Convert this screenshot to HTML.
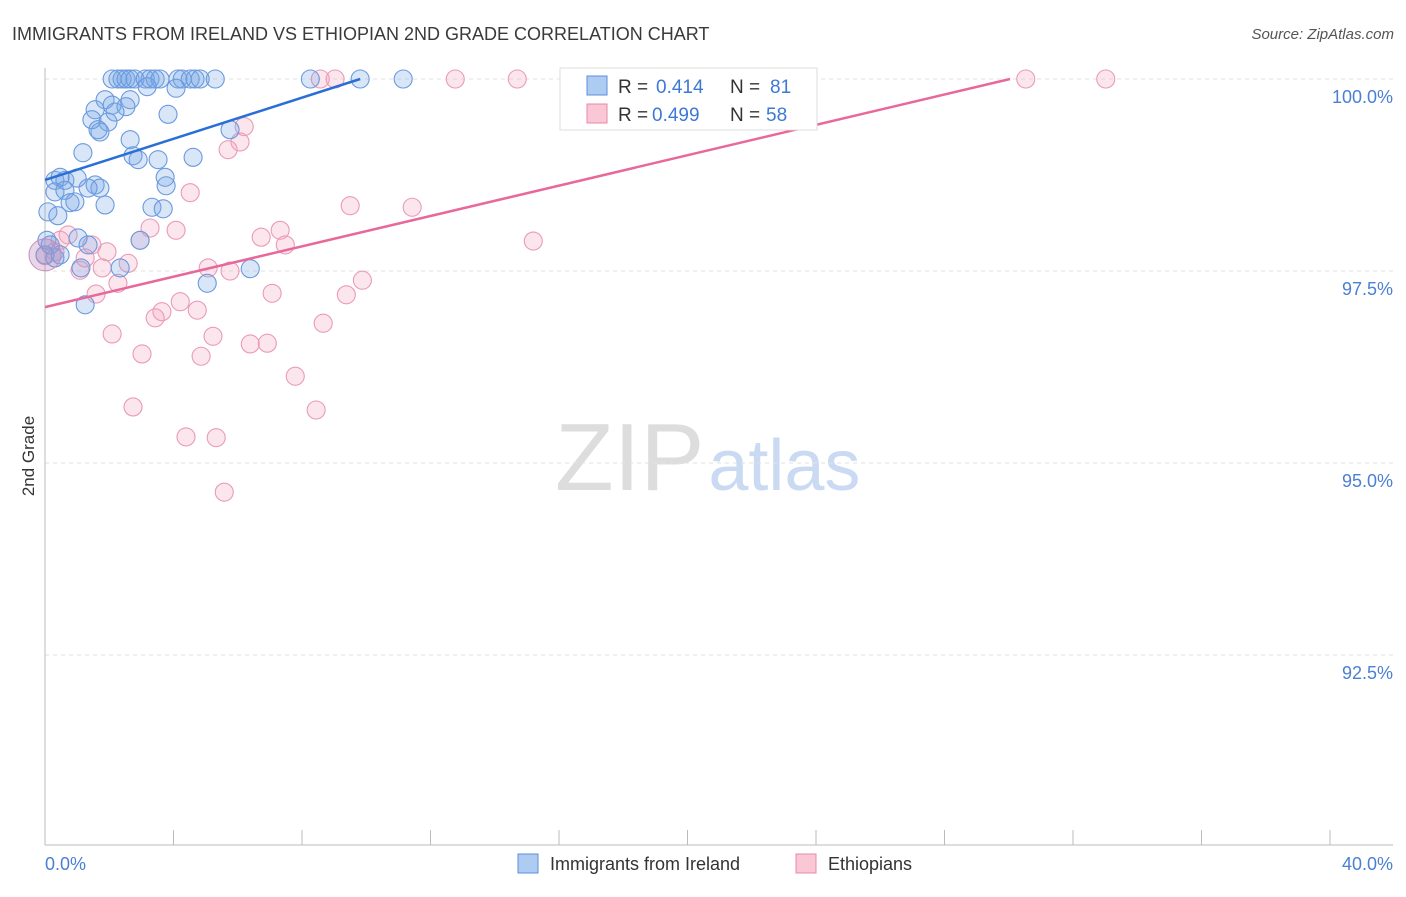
<!DOCTYPE html>
<html><head><meta charset="utf-8"><style>
body{margin:0;background:#fff;font-family:"Liberation Sans",sans-serif;}
svg text{font-family:"Liberation Sans",sans-serif;}
</style></head><body>
<svg id="chart" width="1406" height="892" viewBox="0 0 1406 892" xmlns="http://www.w3.org/2000/svg">
<text x="12" y="40" font-size="18" fill="#3a3a3a">IMMIGRANTS FROM IRELAND VS ETHIOPIAN 2ND GRADE CORRELATION CHART</text>
<text x="1394" y="39" font-size="15" fill="#555" text-anchor="end" font-style="italic">Source: ZipAtlas.com</text>
<text x="555" y="490" font-size="96" fill="#ddd" font-family="Liberation Serif">ZIP<tspan fill="#c9daf2" font-family="Liberation Sans" font-size="72" dx="4">atlas</tspan></text>
<g id="grid"></g>
<g id="axes"></g>
<g id="marks"></g>
<text transform="translate(34,456) rotate(-90)" font-size="17" fill="#333" text-anchor="middle">2nd Grade</text>
<text x="45" y="870" font-size="18" fill="#4a7fd4">0.0%</text>
<text x="1393" y="870" font-size="18" fill="#4a7fd4" text-anchor="end">40.0%</text>
<g>
<rect x="560" y="68" width="257" height="62" fill="#fff" stroke="#ddd"/>
<rect x="587" y="76" width="20" height="19" fill="#aecbf2" stroke="#5b8fdc"/>
<rect x="587" y="104" width="20" height="19" fill="#f9c7d6" stroke="#e88aa8"/>
<text x="618" y="93" font-size="19" fill="#333">R =</text>
<text x="656" y="93" font-size="19" fill="#3d78d6">0.414</text>
<text x="730" y="93" font-size="19" fill="#333">N =</text>
<text x="770" y="93" font-size="19" fill="#3d78d6">81</text>
<text x="618" y="121" font-size="19" fill="#333">R =</text>
<text x="652" y="121" font-size="19" fill="#3d78d6">0.499</text>
<text x="730" y="121" font-size="19" fill="#333">N =</text>
<text x="766" y="121" font-size="19" fill="#3d78d6">58</text>
</g>
<g>
<rect x="518" y="854" width="20" height="19" fill="#aecbf2" stroke="#5b8fdc"/>
<text x="550" y="870" font-size="18" fill="#333">Immigrants from Ireland</text>
<rect x="796" y="854" width="20" height="19" fill="#f9c7d6" stroke="#e88aa8"/>
<text x="828" y="870" font-size="18" fill="#333">Ethiopians</text>
</g>
</svg>
<script>
const yTicks=[100,97.5,95,92.5];
const yTickLabels=["100.0%","97.5%","95.0%","92.5%"];
const xTicks=[0,4,8,12,16,20,24,28,32,36,40];
const blueX=[2.09,2.27,2.40,2.52,2.65,2.80,3.12,3.27,3.43,3.58,4.14,4.27,4.52,4.67,4.83,8.26,9.81,11.15,18.22,5.30,3.18,4.08,1.87,2.65,2.09,2.52,1.56,2.18,1.46,1.96,1.65,1.71,3.83,5.76,2.65,1.18,2.74,2.90,3.52,4.61,0.31,0.47,0.62,1.00,1.56,1.71,1.34,3.74,3.77,0.31,0.62,0.09,0.40,0.78,0.93,1.87,3.33,3.68,1.03,1.34,2.96,0,0.31,0.47,2.34,1.12,6.39,5.05,1.25,0.06,0.16];
const blueY=[100,100,100,100,100,100,100,100,100,100,100,100,100,100,100,100,100,100,100,100,99.90,99.88,99.73,99.73,99.66,99.64,99.60,99.57,99.47,99.44,99.34,99.31,99.54,99.34,99.21,99.04,99.00,98.95,98.95,98.98,98.68,98.72,98.68,98.71,98.62,98.58,98.58,98.72,98.61,98.53,98.55,98.27,98.22,98.39,98.40,98.36,98.33,98.31,97.93,97.84,97.90,97.71,97.67,97.71,97.54,97.54,97.53,97.34,97.06,97.90,97.84];
const pinkX=[8.57,9.03,12.77,14.70,20.72,30.53,33.02,6.20,6.07,5.70,4.52,9.50,11.43,15.20,7.32,6.73,7.48,4.08,3.27,0.72,1.46,1.93,0.31,0,1.25,2.59,1.78,5.08,5.76,1.09,2.27,9.88,9.38,7.07,1.59,4.21,4.74,3.64,3.43,2.09,5.23,8.66,6.39,6.92,3.02,4.86,7.79,2.74,8.44,4.39,5.33,5.58,2.96,0.47];
const pinkY=[100,100,100,100,100,100,100,99.38,99.18,99.08,98.52,98.35,98.33,97.89,98.03,97.94,97.84,98.03,98.06,97.97,97.84,97.75,97.75,97.70,97.67,97.60,97.54,97.54,97.50,97.51,97.34,97.38,97.19,97.21,97.20,97.10,96.99,96.97,96.89,96.68,96.65,96.82,96.55,96.56,96.42,96.39,96.13,95.73,95.69,95.34,95.33,94.62,97.90,97.90];
const blueTrend=[[0,98.685],[9.81,100]];
const pinkTrend=[[0,97.03],[30.04,100]];
const NS="http://www.w3.org/2000/svg";
const sx=v=>45+v/40*1285;
const sy=v=>79+(100-v)/2.5*192;
function mk(tag,attrs,parent){const e=document.createElementNS(NS,tag);for(const k in attrs)e.setAttribute(k,attrs[k]);parent.appendChild(e);return e;}
const grid=document.getElementById('grid'),axes=document.getElementById('axes'),marks=document.getElementById('marks');
yTicks.forEach((t,i)=>{
  const l=mk('line',{x1:45,x2:1393,y1:sy(t),y2:sy(t),stroke:'#e2e2e2','stroke-dasharray':'4,4'},grid);
  
  
  const tx=mk('text',{x:1393,y:sy(t)+24,'font-size':18,fill:'#4a7fd4','text-anchor':'end'},axes);
  tx.textContent=yTickLabels[i];
  
  
});
const ya=mk('line',{x1:45,x2:45,y1:68,y2:845,stroke:'#bbb'},axes);


const xa=mk('line',{x1:45,x2:1393,y1:845,y2:845,stroke:'#bbb'},axes);


xTicks.forEach(t=>{
  const l=mk('line',{x1:sx(t),x2:sx(t),y1:830,y2:845,stroke:'#bbb'},axes);
  
  
});
function dots(xs,ys,fill,stroke,name){
  xs.forEach((x,i)=>{
    const c=mk('circle',{cx:sx(x),cy:sy(ys[i]),r:9,fill:fill,stroke:stroke,'stroke-width':1.1},marks);
    
    
  });
}
dots(pinkX,pinkY,'rgba(244,165,192,0.28)','#eb9ab5','ethiopian-point');
dots(blueX,blueY,'rgba(120,165,230,0.28)','#6a9ade','ireland-point');
const big=mk('circle',{cx:sx(0),cy:sy(97.71),r:16,fill:'rgba(190,140,190,0.35)',stroke:'#c88ab8'},marks);


const bt=mk('line',{x1:sx(blueTrend[0][0]),y1:sy(blueTrend[0][1]),x2:sx(blueTrend[1][0]),y2:sy(blueTrend[1][1]),stroke:'#2a6fd6','stroke-width':2.5},marks);


const pt=mk('line',{x1:sx(pinkTrend[0][0]),y1:sy(pinkTrend[0][1]),x2:sx(pinkTrend[1][0]),y2:sy(pinkTrend[1][1]),stroke:'#e8689a','stroke-width':2.5},marks);


</script>
</body></html>
